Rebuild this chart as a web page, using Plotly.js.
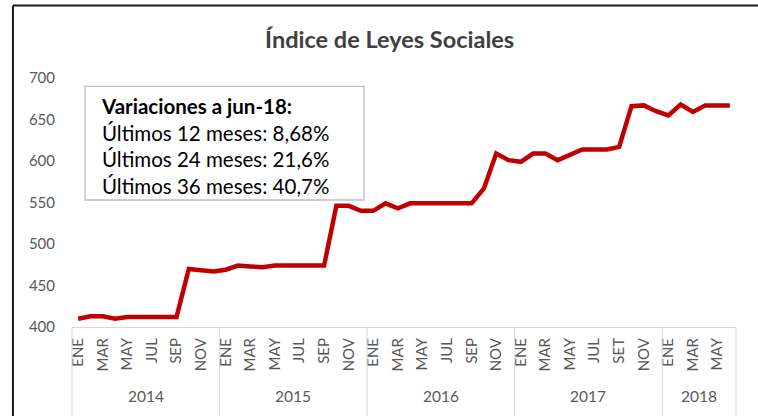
<!DOCTYPE html>
<html>
<head>
<meta charset="utf-8">
<script src="https://cdn.plot.ly/plotly-3.0.1.min.js"></script>
<style>html,body{margin:0;padding:0;background:#fff;}#chart{width:758px;height:416px;}</style>
</head>
<body>
<div id="chart"></div>
<script>
// Data (monthly, ENE 2014 .. JUN 2018)
const years = ['2014', '2015', '2016', '2017', '2018'];
const monthsPerYear = [12, 12, 12, 12, 6];
const values2014 = [410, 413, 413, 410, 412, 412, 412, 412, 412, 470, 469, 467];
const values2015 = [469, 474, 473, 472, 474, 474, 474, 474, 474, 546, 546, 540];
const values2016 = [540, 549, 543, 549, 549, 549, 549, 549, 549, 567, 609, 601];
const values2017 = [599, 609, 609, 601, 607, 614, 614, 614, 617, 666, 667, 660];
const values2018 = [655, 668, 659, 667, 667, 667];
const tickLabels = [
  'ENE','MAR','MAY','JUL','SEP','NOV',
  'ENE','MAR','MAY','JUL','SEP','NOV',
  'ENE','MAR','MAY','JUL','SEP','NOV',
  'ENE','MAR','MAY','JUL','SET','NOV',
  'ENE','MAR','MAY'
];
const titleText = 'Índice de Leyes Sociales';
const boxLines = ['<b>Variaciones a jun-18:</b>', 'Últimos 12 meses: 8,68%', 'Últimos 24 meses: 21,6%', 'Últimos 36 meses: 40,7%'];

const values = [].concat(values2014, values2015, values2016, values2017, values2018);
const xIdx = values.map((v, i) => i);
const tickVals = tickLabels.map((t, i) => i * 2);
const nMonths = values.length;

const FONT = 'Lato, "Open Sans", sans-serif';
const GRAY = '#595959';

// year group boundaries and centres
const shapes = [];
const annotations = [];
let start = 0;
const toPaper = v => (v + 0.5) / nMonths;
shapes.push({type: 'line', xref: 'paper', yref: 'paper', x0: toPaper(-0.5), x1: toPaper(-0.5), y0: 0, y1: -0.36, line: {color: '#d9d9d9', width: 1}});
years.forEach((yr, k) => {
  const end = start + monthsPerYear[k];
  shapes.push({type: 'line', xref: 'paper', yref: 'paper', x0: toPaper(end - 0.5), x1: toPaper(end - 0.5), y0: 0, y1: -0.36, line: {color: '#d9d9d9', width: 1}});
  annotations.push({xref: 'x', yref: 'paper', x: (start + end - 1) / 2, y: -0.278, yanchor: 'middle', text: yr, showarrow: false, font: {family: FONT, size: 15.5, color: GRAY}});
  start = end;
});

// info box
shapes.push({type: 'rect', xref: 'paper', yref: 'paper', x0: 0.0196, x1: 0.4398, y0: 0.510, y1: 0.966, line: {color: '#bfbfbf', width: 1.3}, fillcolor: '#ffffff', layer: 'below'});
annotations.push({xref: 'paper', yref: 'paper', x: 0.040, y: 0.945, xanchor: 'left', yanchor: 'top', align: 'left', showarrow: false,
  text: boxLines.join('<br>'), font: {family: FONT, size: 20.5, color: '#000000'}});

// outer frame (left & top)
shapes.push({type: 'line', xref: 'paper', yref: 'paper', x0: -0.0889, x1: 1.1, y0: 1.291, y1: 1.291, line: {color: '#1a1a1a', width: 2}});
shapes.push({type: 'line', xref: 'paper', yref: 'paper', x0: -0.0889, x1: -0.0889, y0: 1.291, y1: -0.4, line: {color: '#1a1a1a', width: 2}});

const trace = {
  x: xIdx, y: values, type: 'scatter', mode: 'lines',
  line: {color: '#c00000', width: 4.5}, hoverinfo: 'skip'
};

const layout = {
  width: 758, height: 416,
  margin: {l: 72, r: 22, t: 78, b: 89, pad: 0},
  paper_bgcolor: '#ffffff', plot_bgcolor: 'rgba(0,0,0,0)',
  showlegend: false,
  title: {text: '<b>' + titleText + '</b>', x: 0.514, xanchor: 'center', y: 0.904, yanchor: 'middle', font: {family: FONT, size: 23.5, color: '#404040'}},
  xaxis: {
    range: [-0.5, nMonths - 0.5], tickmode: 'array', tickvals: tickVals, ticktext: tickLabels,
    tickangle: -90, showgrid: false, zeroline: false, showline: true, linecolor: '#d9d9d9', linewidth: 1,
    ticks: '', ticklabelstandoff: 4, tickfont: {family: FONT, size: 15, color: GRAY}, fixedrange: true
  },
  yaxis: {
    range: [400, 700], tickmode: 'linear', tick0: 400, dtick: 50, showgrid: false, zeroline: false, showline: false,
    ticks: '', ticklabelstandoff: 16, tickfont: {family: FONT, size: 15, color: GRAY}, fixedrange: true
  },
  shapes: shapes,
  annotations: annotations
};

Plotly.newPlot('chart', [trace], layout, {displayModeBar: false, staticPlot: true});
</script>
</body>
</html>
